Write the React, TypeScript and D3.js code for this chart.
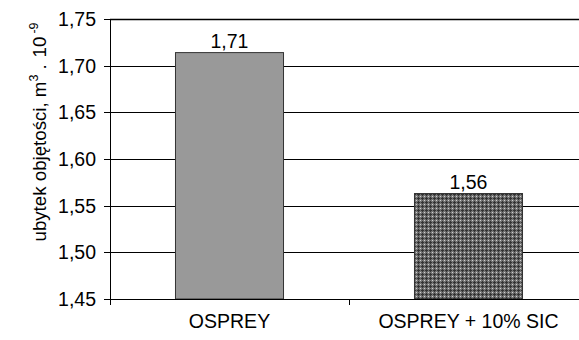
import React from "react";
import * as d3 from "d3";

const categories = ["OSPREY", "OSPREY + 10% SIC"];
const values = [1.714, 1.563];
const valueLabels = ["1,71", "1,56"];
const yTicks = [1.45, 1.5, 1.55, 1.6, 1.65, 1.7, 1.75];

const W = 579;
const H = 340;
const FONT = "'Liberation Sans', Arial, sans-serif";

export default function App() {
  const left = 110;
  const right = 588;
  const top = 19;
  const bottom = 299;

  const y = d3.scaleLinear().domain([1.45, 1.75]).range([bottom, top]);
  const x = d3
    .scaleBand<string>()
    .domain(categories)
    .range([left, right])
    .paddingInner(0.548)
    .paddingOuter(0.274);
  const step = x.step();
  const fmt = (v: number) => d3.format(".2f")(v).replace(".", ",");

  return (
    <svg
      width={W}
      height={H}
      style={{ position: "absolute", left: 0, top: 0, background: "#fff" }}
      fontFamily={FONT}
    >
      <defs>
        <pattern id="dots" width={4} height={4} patternUnits="userSpaceOnUse">
          <rect width={4} height={4} fill="#737373" />
          <rect x={0} y={0} width={1} height={1} fill="#d0d0d0" />
          <rect x={2} y={1} width={1} height={3} fill="#333" />
          <rect x={1} y={2} width={3} height={1} fill="#333" />
        </pattern>
      </defs>
      {yTicks.map((t) => (
        <line
          key={t}
          x1={left}
          x2={W}
          y1={Math.round(y(t)) + 0.5}
          y2={Math.round(y(t)) + 0.5}
          stroke="#000"
          strokeWidth={t === 1.75 ? 1.5 : 1}
        />
      ))}
      {categories.map((c, i) => (
        <rect
          key={c}
          x={x(c)!}
          y={y(values[i])}
          width={x.bandwidth()}
          height={bottom - y(values[i])}
          fill={i === 0 ? "#999999" : "url(#dots)"}
          stroke="#333"
          strokeWidth={1}
        />
      ))}
      {categories.map((c, i) => (
        <text
          key={c}
          x={x(c)! + x.bandwidth() / 2}
          y={y(values[i]) - 5}
          textAnchor="middle"
          fontSize={19.5}
          fill="#000"
        >
          {valueLabels[i]}
        </text>
      ))}
      <line x1={left + 0.5} x2={left + 0.5} y1={top} y2={bottom + 6} stroke="#000" />
      {yTicks.map((t) => (
        <g key={t}>
          <line
            x1={left - 6}
            x2={left}
            y1={Math.round(y(t)) + 0.5}
            y2={Math.round(y(t)) + 0.5}
            stroke="#000"
          />
          <text
            x={left - 14}
            y={y(t) + 7}
            textAnchor="end"
            fontSize={19.5}
            fill="#000"
          >
            {fmt(t)}
          </text>
        </g>
      ))}
      <line x1={left - 6} x2={W} y1={bottom + 0.5} y2={bottom + 0.5} stroke="#000" />
      {[0, 1, 2].map((k) => (
        <line
          key={k}
          x1={Math.round(left + k * step) + 0.5}
          x2={Math.round(left + k * step) + 0.5}
          y1={bottom}
          y2={bottom + 6}
          stroke="#000"
        />
      ))}
      {categories.map((c) => (
        <text
          key={c}
          x={x(c)! + x.bandwidth() / 2}
          y={328}
          textAnchor="middle"
          fontSize={19.5}
          fill="#000"
        >
          {c}
        </text>
      ))}
      <text
        transform={`translate(46, 132) rotate(-90)`}
        textAnchor="middle"
        fontSize={18.7}
        fill="#000"
      >
        {"ubytek objętości, m"}
        <tspan dy={-8} fontSize={12.5}>3</tspan>
        <tspan dy={8} dx={5}>.</tspan>
        <tspan dx={7}>10</tspan>
        <tspan dy={-8} dx={3} fontSize={12.5}>-9</tspan>
      </text>
    </svg>
  );
}
